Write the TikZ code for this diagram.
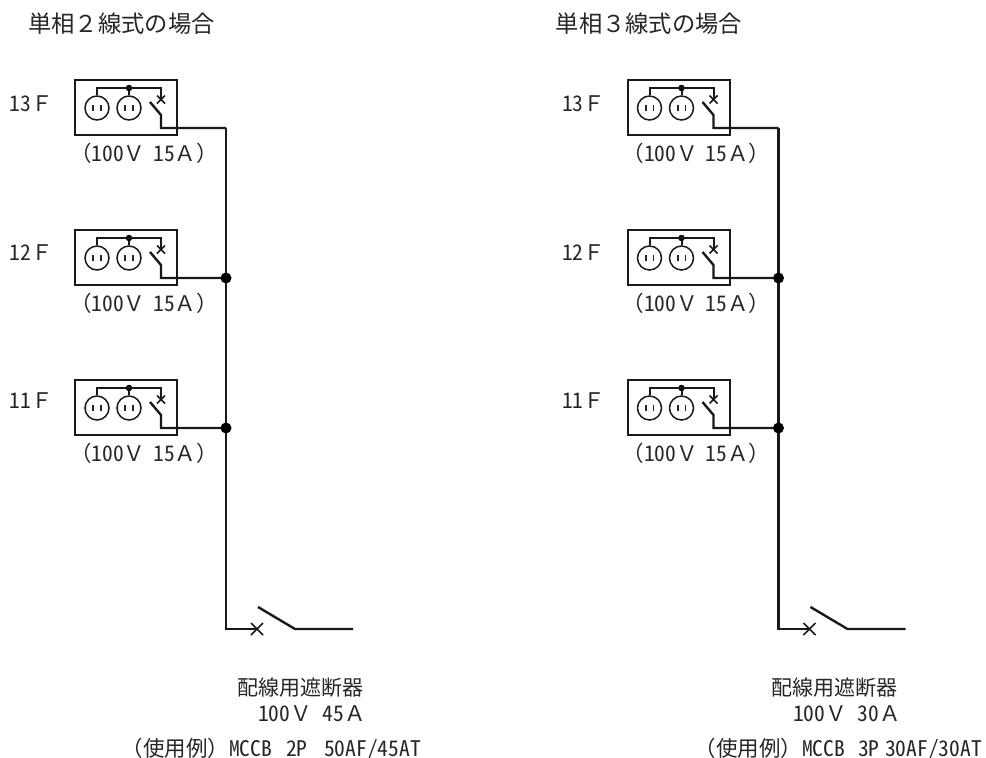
\documentclass[tikz,border=0pt]{standalone}
\usepackage{fontspec}
\setmainfont{Noto Sans CJK JP}
\newfontfamily\hwfont[RawFeature=+hwid]{Noto Sans CJK JP}
\newcommand\hwt[1]{{\hwfont #1}}
\usetikzlibrary{calc}
\tikzset{
  x=1pt,y=-1pt,
  wire/.style={line width=2.4pt,line join=miter,draw=black!90},
  thinw/.style={line width=2pt,draw=black!90},
  xmark/.style={line width=1.7pt,draw=black!90},
  boxst/.style={draw=black!90,line width=2pt,minimum width=102pt,minimum height=54.5pt,inner sep=0pt},
  outlet/.style={circle,draw=black!90,line width=1.5pt,minimum size=24pt,inner sep=0pt},
  pin/.style={line width=1.6pt,draw=black!85},
  dot/.style={circle,fill=black,inner sep=0pt,minimum size=6.5pt},
  bigdot/.style={circle,fill=black,inner sep=0pt,minimum size=11pt},
  txt/.style={inner sep=0pt,anchor=base west,text=black!85,font=\fontsize{21.5}{21.5}\selectfont},
  ttl/.style={inner sep=0pt,anchor=base west,text=black!85,font=\fontsize{23.3}{23.3}\selectfont},
}
\begin{document}
\begin{tikzpicture}
\useasboundingbox (0,0) rectangle (986,758);
\node[ttl] (t1) at (28,32.5) {単相２線式の場合};
\node[ttl] (t2) at (555.5,32.5) {単相３線式の場合};
\foreach \s/\dx in {L/0,R/552.5}{
  \foreach \f/\dy/\ly in {13/0/111,12/150/260,11/300/408}{
    \node[txt] (lab\s\f) at ({9.5+\dx},\ly) {\hwt{\f}Ｆ};
    \node[boxst] (box\s\f) at ({126+\dx},{107.5+\dy}) {};
    \node[outlet] (oa\s\f) at ({97+\dx},{108+\dy}) {};
    \node[outlet] (ob\s\f) at ({129+\dx},{108+\dy}) {};
    \node[dot] (d\s\f) at ({129+\dx},{88+\dy}) {};
    \coordinate (x\s\f) at ({161+\dx},{99.5+\dy});
    \coordinate (bs\s\f) at ({150+\dx},{102+\dy});
    \coordinate (be\s\f) at ({161+\dx},{115+\dy});
    \coordinate (tap\s\f) at ({226+\dx},{128+\dy});
    \draw[thinw] (oa\s\f.north) |- (d\s\f.center) -| (x\s\f);
    \draw[thinw] (d\s\f) -- (ob\s\f.north);
    \draw[xmark] ($(x\s\f)+(-4,-4)$) -- ($(x\s\f)+(4,4)$) ($(x\s\f)+(-4,4)$) -- ($(x\s\f)+(4,-4)$);
    \draw[wire] (bs\s\f) -- (be\s\f) |- (tap\s\f);
    \draw[pin] ($(oa\s\f)+(-3.8,-3.2)$) -- ++(0,6.4) ($(oa\s\f)+(3.8,-3.2)$) -- ++(0,6.4)
      ($(ob\s\f)+(-3.8,-3.2)$) -- ++(0,6.4) ($(ob\s\f)+(3.8,-3.2)$) -- ++(0,6.4);
    \node[txt] (r\s\f) at ({70+\dx},{161+\dy}) {（\hwt{100}Ｖ\hspace*{8pt}\hwt{15}Ａ）};
  }
  \coordinate (bb\s) at ({226+\dx},629);
  \coordinate (cb\s) at ({257+\dx},629);
  \coordinate (bls\s) at ({258+\dx},607);
  \coordinate (ble\s) at ({295+\dx},629);
  \coordinate (end\s) at ({353+\dx},629);
  \draw[wire] (tap\s13) -- (bb\s) -- (cb\s);
  \node[bigdot] at (tap\s12) {};
  \node[bigdot] at (tap\s11) {};
  \draw[xmark] ($(cb\s)+(-6,-6)$) -- ($(cb\s)+(6,6)$) ($(cb\s)+(-6,6)$) -- ($(cb\s)+(6,-6)$);
  \draw[wire] (bls\s) -- (ble\s) -- (end\s);
}
\node[txt,font=\fontsize{21}{21}\selectfont] (a1) at (237,695) {配線用遮断器};
\node[txt] (b1) at (258,721) {\hwt{100}Ｖ\hspace*{10.75pt}\hwt{45}Ａ};
\node[txt] (c1) at (121.5,756) {（使用例）\hwt{MCCB}\hspace*{14pt}\hwt{2P}\hspace*{16.5pt}\hwt{50AF/45AT}};
\node[txt,font=\fontsize{21}{21}\selectfont] (a2) at (771,695) {配線用遮断器};
\node[txt] (b2) at (793,721) {\hwt{100}Ｖ\hspace*{10.75pt}\hwt{30}Ａ};
\node[txt] (c2) at (694.5,756) {（使用例）\hwt{MCCB}\hspace*{13pt}\hwt{3P}\hspace*{5.5pt}\hwt{30AF/30AT}};
\end{tikzpicture}
\end{document}
